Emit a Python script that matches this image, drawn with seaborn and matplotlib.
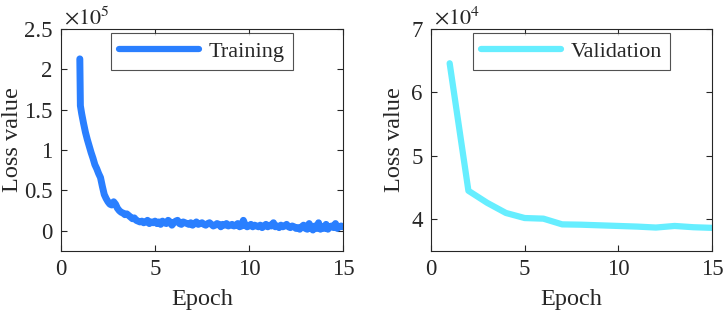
import numpy as np
import pandas as pd
import seaborn as sns
from matplotlib import pyplot as plt

# training loss, sampled every 0.1 epoch (first drop is steep)
train_epoch = np.concatenate([[1.0, 1.03], np.arange(1.1, 15.001, 0.1)])
train_loss = [
    213000, 155000, 145000, 133000, 122000, 113000, 105000, 97000, 90000, 82000,
    77000, 71000, 66000, 55000, 45000, 40000, 36000, 33000, 32000, 36000,
    33000, 28000, 25000, 23000, 22000, 20000, 21000, 19000, 17000, 15000,
    16000, 13000, 12000, 11000, 12000, 10000, 11000, 13000, 9000, 11000,
    10000, 12000, 9000, 11000, 8000, 12000, 10000, 9000, 13000, 11000,
    7000, 10000, 12000, 13000, 9000, 8000, 11000, 10000, 9000, 8000,
    10000, 7000, 9000, 11000, 8000, 9000, 10000, 8000, 7000, 9000,
    10000, 8000, 6000, 7000, 9000, 8000, 5000, 8000, 7000, 9000,
    6000, 7000, 8000, 6000, 7000, 9000, 5000, 6000, 13000, 7000,
    5000, 6000, 8000, 5000, 7000, 6000, 5000, 7000, 4000, 6000,
    8000, 5000, 7000, 6000, 10000, 5000, 6000, 4000, 7000, 5000,
    6000, 8000, 5000, 4000, 6000, 5000, 3000, 4000, 2000, 5000,
    7000, 3000, 2000, 9000, 4000, 1000, 6000, 3000, 10000, 2000,
    5000, 3000, 8000, 2000, 5000, 6000, 4000, 9000, 3000, 5000,
    6000, 5000,
]

# validation loss, once per epoch
val_epoch = list(range(1, 16))
val_loss = [64600, 44500, 42600, 41000, 40200, 40100, 39200, 39150, 39050, 38950,
            38850, 38700, 38950, 38750, 38650]

sns.set_theme(style="ticks")
plt.rcParams['font.family'] = ['Liberation Serif', 'DejaVu Serif']
plt.rcParams['mathtext.fontset'] = 'stix'

train_df = pd.DataFrame({'Epoch': train_epoch, 'Loss': np.array(train_loss) / 1e5})
val_df = pd.DataFrame({'Epoch': val_epoch, 'Loss': np.array(val_loss) / 1e4})

fig = plt.figure(figsize=(7.23, 3.14), dpi=100)
ax1 = fig.add_axes([0.0844, 0.2006, 0.390, 0.707])
ax2 = fig.add_axes([0.596, 0.2006, 0.389, 0.707])

sns.lineplot(data=train_df, x='Epoch', y='Loss', ax=ax1, color='#2a7fff',
             linewidth=5, label='Training', solid_joinstyle='round')
sns.lineplot(data=val_df, x='Epoch', y='Loss', ax=ax2, color='#66eeff',
             linewidth=4.5, label='Validation')

for ax, ylim, yticks, ylabels, exp, labx in [
        (ax1, (-0.25, 2.5), [0, 0.5, 1, 1.5, 2, 2.5], ['0', '0.5', '1', '1.5', '2', '2.5'], 5, -0.135),
        (ax2, (3.5, 7), [4, 5, 6, 7], ['4', '5', '6', '7'], 4, -0.093)]:
    ax.set_xlim(0, 15)
    ax.set_ylim(*ylim)
    ax.set_xticks([0, 5, 10, 15])
    ax.set_yticks(yticks)
    ax.set_yticklabels(ylabels)
    ax.set_xlabel('Epoch', fontsize=17.5, color='#262626', labelpad=6)
    ax.set_ylabel('Loss value', fontsize=17.5, color='#262626')
    ax.yaxis.set_label_coords(labx, 0.5)
    ax.tick_params(direction='in', top=True, right=True, labelsize=16.5,
                   length=4, width=0.8, colors='#262626', pad=6)
    for s in ax.spines.values():
        s.set_linewidth(0.8)
        s.set_color('#262626')
    ax.text(0.01, 1.0, r'$\times10^{%d}$' % exp, transform=ax.transAxes,
            fontsize=16, color='#262626', ha='left', va='bottom')
    leg = ax.legend(loc='upper center', bbox_to_anchor=(0.5, 0.98), fontsize=16,
                    frameon=True, fancybox=False, handlelength=3.6,
                    borderpad=0.35, handletextpad=0.45, borderaxespad=0)
    leg.get_frame().set_edgecolor('#262626')
    leg.get_frame().set_linewidth(0.8)
    for line in leg.get_lines():
        line.set_linewidth(4.5)

fig.savefig('out.png', dpi=100)
